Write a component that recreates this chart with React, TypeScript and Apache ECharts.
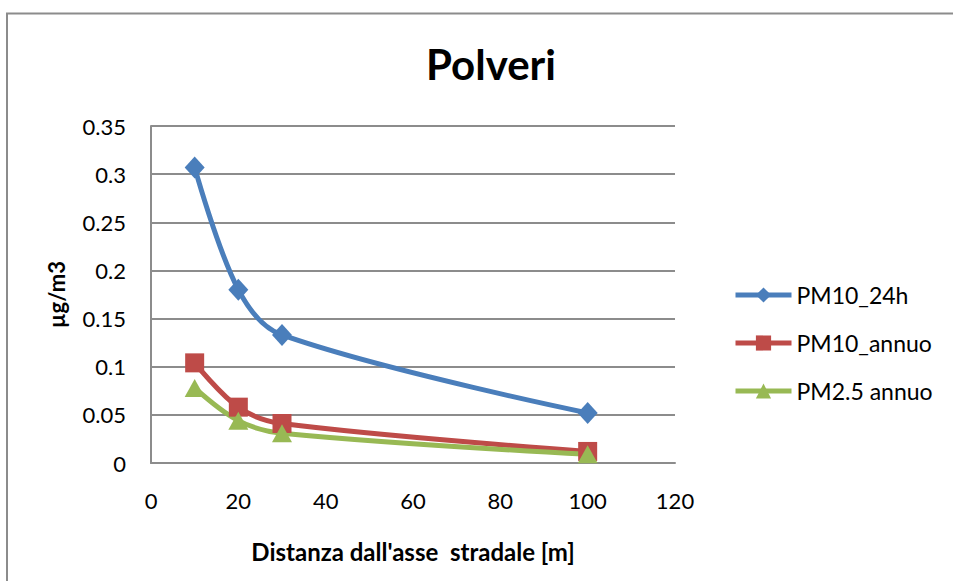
import React, { useEffect, useRef } from "react";
import * as echarts from "echarts";

const distances = [10, 20, 30, 100];
const pm10_24h = [0.307, 0.18, 0.133, 0.052];
const pm10_annuo = [0.104, 0.058, 0.041, 0.012];
const pm25_annuo = [0.078, 0.044, 0.031, 0.009];
const seriesNames = ["PM10_24h", "PM10_annuo", "PM2.5 annuo"];
const titleText = "Polveri";
const xAxisName = "Distanza dall'asse  stradale [m]";
const yAxisName = "µg/m3";

const FONT = "Lato, 'Noto Sans', sans-serif";

export default function App() {
  const ref = useRef<HTMLDivElement>(null);
  useEffect(() => {
    if (!ref.current) return;
    const chart = echarts.init(ref.current, null, { renderer: "svg" });
    const pts = (ys: number[]) => distances.map((x, i) => [x, ys[i]]);
    const mk = (name: string, data: number[], color: string, symbol: string, size: number | number[]) => ({
      name,
      type: "line",
      data: pts(data),
      smooth: 0.35,
      symbol,
      symbolSize: size,
      lineStyle: { color, width: 5 },
      itemStyle: { color },
    });
    chart.setOption({
      animation: false,
      backgroundColor: "#ffffff",
      textStyle: { fontFamily: FONT },
      title: {
        text: titleText,
        left: 486,
        top: 38,
        textAlign: "center",
        textStyle: { fontFamily: FONT, fontSize: 42, fontWeight: "bold", color: "#000" },
      },
      graphic: [
        {
          type: "rect",
          shape: { x: 7, y: 13.5, width: 990, height: 700 },
          style: { fill: "none", stroke: "#8c8c8c", lineWidth: 2 },
          silent: true,
        },
      ],
      grid: { left: 151, right: 278, top: 126, bottom: 118 },
      legend: {
        orient: "vertical",
        left: 728,
        top: 277,
        itemWidth: 56,
        itemHeight: 19,
        itemGap: 22,
        lineStyle: { width: 5 },
        textStyle: { fontFamily: FONT, fontSize: 23, color: "#000", lineHeight: 26 },
        data: seriesNames,
      },
      xAxis: {
        type: "value",
        min: 0,
        max: 120,
        interval: 20,
        name: xAxisName,
        nameLocation: "middle",
        nameGap: 76,
        nameTextStyle: { fontFamily: FONT, fontSize: 24, fontWeight: "bold", color: "#000" },
        axisLine: { show: true, lineStyle: { color: "#8c8c8c", width: 2 } },
        axisTick: { show: false },
        splitLine: { show: false },
        axisLabel: { fontFamily: FONT, fontSize: 22, color: "#000", margin: 26 },
      },
      yAxis: {
        type: "value",
        min: 0,
        max: 0.35,
        interval: 0.05,
        name: yAxisName,
        nameLocation: "middle",
        nameGap: 84,
        nameTextStyle: { fontFamily: FONT, fontSize: 22, fontWeight: "bold", color: "#000" },
        axisLine: { show: true, lineStyle: { color: "#8c8c8c", width: 2 } },
        axisTick: { show: false },
        splitLine: { show: true, lineStyle: { color: "#8c8c8c", width: 2 } },
        axisLabel: {
          fontFamily: FONT,
          fontSize: 22,
          color: "#000",
          margin: 25,
          formatter: (v: number) => String(parseFloat(v.toFixed(2))),
        },
      },
      series: [
        mk(seriesNames[0], pm10_24h, "#4a7ebb", "diamond", [20, 22]),
        mk(seriesNames[1], pm10_annuo, "#be4b48", "rect", 19),
        mk(seriesNames[2], pm25_annuo, "#98b954", "triangle", [20, 18]),
      ],
    });
    return () => chart.dispose();
  }, []);
  return (
    <div
      ref={ref}
      style={{ position: "fixed", left: 0, top: 0, width: 953, height: 581, background: "#fff" }}
    />
  );
}
